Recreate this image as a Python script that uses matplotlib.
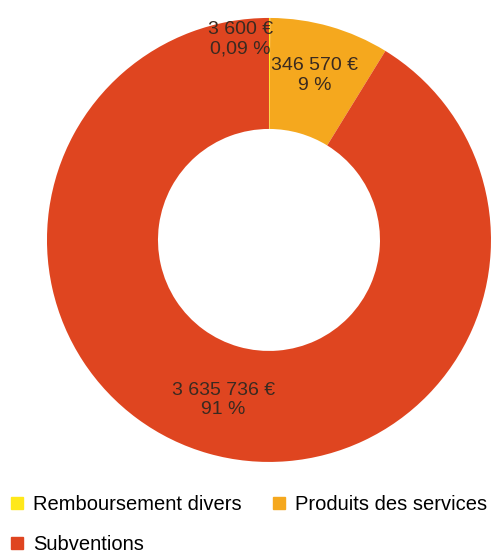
import numpy as np
import matplotlib.pyplot as plt
from matplotlib.lines import Line2D

labels = ['Remboursement divers', 'Produits des services', 'Subventions']
values = [3600, 346570, 3635736]
value_text = ['3 600 €', '346 570 €', '3 635 736 €']
pct_text = ['0,09 %', '9 %', '91 %']
colors = ['#FFE81A', '#F5A81E', '#DF4520']

plt.rcParams['font.family'] = ['Liberation Sans', 'DejaVu Sans']

fig = plt.figure(figsize=(4.93, 5.53), dpi=100)
ax = fig.add_axes([0.0953, 0.1646, 0.9006, 0.803])

wedges, _ = ax.pie(values, colors=colors, startangle=90, counterclock=False,
                   radius=1, wedgeprops=dict(width=0.5, linewidth=0))
ax.set_xlim(-1, 1)
ax.set_ylim(-1, 1)
ax.set_aspect('equal')

total = sum(values)
start = 0.0
for i, v in enumerate(values):
    mid = start + v / total / 2
    ang = np.deg2rad(90 - mid * 360)
    x, y = 0.75 * np.cos(ang), 0.75 * np.sin(ang)
    if i == 0:
        # tiny slice: nudge label left so it doesn't sit on the next one
        x, y = x - 0.13, y + 0.155
    if i == 1:
        y += 0.02
    ax.text(x, y, value_text[i] + '\n' + pct_text[i], ha='center', va='center',
            fontsize=14, color='#3a2a20', linespacing=1.2)
    start += v / total

handles = [Line2D([], [], marker='s', linestyle='', markersize=8,
                  markerfacecolor=c, markeredgecolor=c) for c in colors]
order = [0, 2, 1]
fig.legend([handles[i] for i in order], [labels[i] for i in order],
           loc='lower left', bbox_to_anchor=(0.0, -0.02), ncol=2, frameon=False,
           fontsize=14.5, handlelength=0.7, handletextpad=0.45, columnspacing=1.5,
           labelspacing=1.03, borderaxespad=0.1)

fig.savefig('out.png', dpi=100)
